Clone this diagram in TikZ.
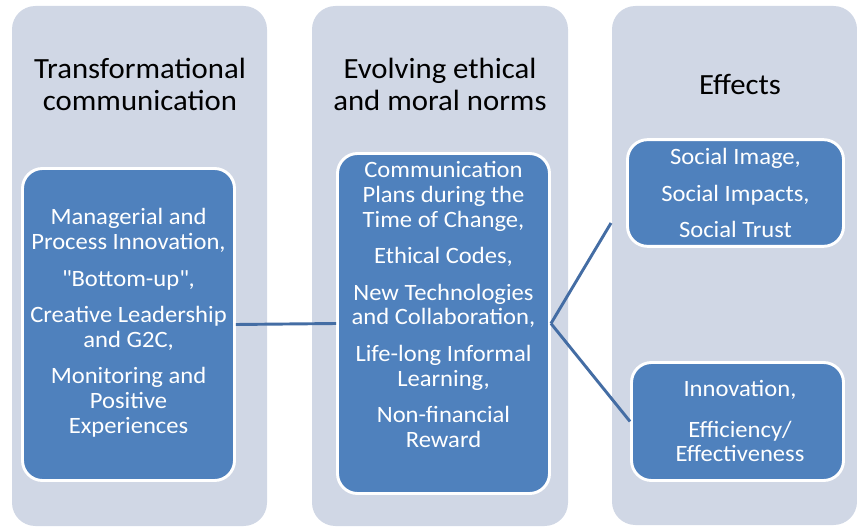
\documentclass[tikz,border=0pt]{standalone}
\usepackage{fontspec}
\setmainfont{Carlito}[FakeStretch=1.05]
\definecolor{colbg}{RGB}{208,215,229}
\definecolor{boxblue}{RGB}{79,129,189}
\definecolor{linkblue}{RGB}{68,109,164}
\newcommand{\pgap}{\\[3.4mm]}
\tikzset{
  colbox/.style={fill=colbg, draw=none, rounded corners=7mm},
  bluebox/.style={draw=white, line width=2.5pt, fill=boxblue, rounded corners=6mm},
  boxtext/.style={text=white, align=center, font=\fontsize{20}{21.3}\selectfont},
  headtext/.style={align=center, font=\fontsize{25}{27.3}\selectfont},
  link/.style={draw=linkblue, line width=2.5pt}
}

\begin{document}
\begin{tikzpicture}[x=0.3mm, y=-0.3mm]
\useasboundingbox (0,0) rectangle (857,527);

% column backgrounds
\fill[colbox] (12,6) rectangle (267,526);
\fill[colbox] (312,6) rectangle (568,526);
\fill[colbox] (612,6) rectangle (857,525);

\node[headtext] (transhead) at (140,84) {Transformational\\communication};
\node[headtext] (normshead) at (440,84) {Evolving ethical\\and moral norms};
\node[headtext] (effhead) at (740,84) {Effects};

\node[bluebox, minimum width=63.6mm, minimum height=93.6mm] (transbox) at (128.5,324.5) {};
\node[boxtext] (transtext) at (128.5,323) {Managerial and\\Process Innovation,\pgap
  \textquotedbl Bottom-up\textquotedbl,\pgap
  Creative Leadership\\and G2C,\pgap
  Monitoring and\\Positive\\Experiences};

\node[bluebox, minimum width=63.6mm, minimum height=102mm] (normsbox) at (443.5,323.5) {};
\node[boxtext] (normstext) at (443.5,304.5) {Communication\\Plans during the\\Time of Change,\pgap
  Ethical Codes,\pgap
  New Technologies\\and Collaboration,\pgap
  Life-long Informal\\Learning,\pgap
  Non-financial\\Reward};

\node[bluebox, minimum width=64.8mm, minimum height=32mm] (socialbox) at (735.5,193) {};
\node[boxtext] (socialtext) at (735.5,193) {Social Image,\pgap Social Impacts,\pgap Social Trust};

\node[bluebox, minimum width=63.6mm, minimum height=35.4mm] (innovbox) at (737.5,421.5) {};
\node[boxtext] (innovtext) at (740,421) {Innovation,\\[4.8mm] Efficiency/\\Effectiveness};

\coordinate (socialend) at (611,223);
\draw[link] (transbox.east) -- (normsbox.west);
\draw[link] (normsbox.east) -- (socialend);
\draw[link] (normsbox.east) -- (innovbox.west);
\end{tikzpicture}
\end{document}
